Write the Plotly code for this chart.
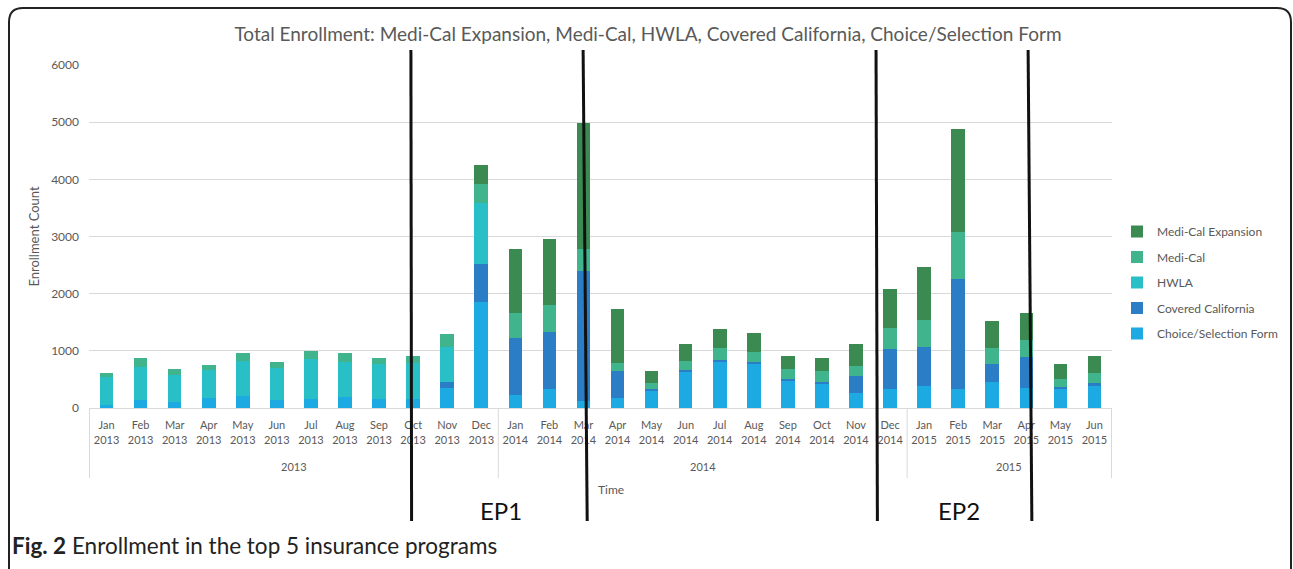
import plotly.graph_objects as go

# ---------------- data ----------------
years = ["2013"] * 12 + ["2014"] * 12 + ["2015"] * 6
months = (["Jan", "Feb", "Mar", "Apr", "May", "Jun", "Jul", "Aug", "Sep", "Oct", "Nov", "Dec"] * 2
          + ["Jan", "Feb", "Mar", "Apr", "May", "Jun"])
month_labels = [f"{m}<br>{y}" for m, y in zip(months, years)]

choice_selection = [47, 146, 105, 175, 204, 146, 158, 193, 152, 152, 352, 1849,
                    235, 335, 129, 170, 300, 624, 800, 765, 476, 429, 265, 334,
                    392, 334, 463, 351, 334, 381]
covered_california = [0, 0, 0, 0, 0, 0, 0, 0, 0, 0, 100, 675,
                      998, 986, 2271, 475, 41, 41, 41, 47, 24, 18, 300, 697,
                      673, 1920, 299, 539, 29, 53]
hwla = [496, 572, 467, 485, 613, 555, 706, 612, 612, 636, 616, 1068,
        0, 0, 0, 0, 0, 0, 0, 0, 0, 0, 0, 0,
        0, 0, 0, 0, 0, 0]
medi_cal = [70, 163, 105, 99, 152, 105, 128, 158, 117, 123, 223, 323,
            423, 487, 387, 135, 88, 159, 206, 165, 176, 206, 176, 369,
            480, 831, 293, 293, 146, 181]
medi_cal_expansion = [0, 0, 0, 0, 0, 0, 0, 0, 0, 0, 0, 340,
                      1133, 1156, 2195, 957, 218, 294, 341, 329, 235, 218, 376, 685,
                      913, 1803, 468, 480, 263, 293]

series = [
    ("Choice/Selection Form", choice_selection, "#1da9e2"),
    ("Covered California", covered_california, "#2b7dc6"),
    ("HWLA", hwla, "#28c0c6"),
    ("Medi-Cal", medi_cal, "#40b48c"),
    ("Medi-Cal Expansion", medi_cal_expansion, "#3b8a51"),
]

# period marker lines (category-index positions, top / bottom) and labels
period_lines = [(8.94, 8.96), (13.99, 14.11), (22.58, 22.62), (27.04, 27.15)]
period_labels = [("EP1", 11.57), ("EP2", 25.0)]

# ---------------- layout geometry ----------------
W, H = 1293, 569
ML, MR, MT, MB = 89, 181, 65, 161
PW, PH = W - ML - MR, H - MT - MB
N = len(month_labels)


def px_x(px):
    return (px - ML) / PW


def px_y(py):
    return (H - MB - py) / PH


def idx_x(i):
    return (i + 0.5) / N


FONT = "Lato, 'Open Sans', sans-serif"
GRAY = "#595959"
LIGHT = "#d9d9d9"

fig = go.Figure()
for rank, (name, vals, col) in enumerate(series):
    fig.add_trace(go.Bar(
        name=name, x=month_labels, y=vals,
        marker=dict(color=col, line=dict(width=0)),
        legendgroup=name, legendrank=100 - rank,
    ))

shapes = []
for top, bot in period_lines:
    shapes.append(dict(type="line", xref="paper", yref="paper",
                       x0=idx_x(top), y0=px_y(50), x1=idx_x(bot), y1=px_y(521),
                       line=dict(color="#111111", width=3), layer="above"))

# year group dividers + group labels below the month ticks
bounds = [-0.5] + [i + 0.5 for i in range(N - 1) if years[i] != years[i + 1]] + [N - 0.5]
for b in bounds:
    shapes.append(dict(type="line", xref="x", yref="paper", x0=b, x1=b,
                       y0=0, y1=px_y(478), line=dict(color=LIGHT, width=1), layer="below"))

annotations = []
for a, b in zip(bounds[:-1], bounds[1:]):
    annotations.append(dict(text=years[int(a + 0.5)], x=(a + b) / 2, y=px_y(466),
                            xref="x", yref="paper", showarrow=False,
                            font=dict(family=FONT, size=11, color=GRAY),
                            xanchor="center", yanchor="middle"))

# rounded figure border
x0, y0, x1, y1, r = px_x(9), px_y(8), px_x(1291), px_y(569), 14
rx, ry = r / PW, r / PH
border = (f"M {x0},{y1} L {x0},{y0 - ry} Q {x0},{y0} {x0 + rx},{y0} "
          f"L {x1 - rx},{y0} Q {x1},{y0} {x1},{y0 - ry} L {x1},{y1}")
shapes.append(dict(type="path", xref="paper", yref="paper", path=border,
                   line=dict(color="#222222", width=2)))

for txt, pos in period_labels:
    annotations.append(dict(text=txt, x=idx_x(pos), y=px_y(510), xref="paper", yref="paper",
                            showarrow=False, font=dict(family=FONT, size=24, color="#111111"),
                            xanchor="center", yanchor="middle"))
annotations.append(dict(text="<b>Fig. 2</b> Enrollment in the top 5 insurance programs",
                        x=px_x(10), y=px_y(545), xref="paper", yref="paper", showarrow=False,
                        font=dict(family=FONT, size=22.5, color="#222222"),
                        xanchor="left", yanchor="middle"))
annotations.append(dict(text="Time", x=px_x(611), y=px_y(489), xref="paper", yref="paper",
                        showarrow=False, font=dict(family=FONT, size=12, color=GRAY),
                        xanchor="center", yanchor="middle"))

fig.update_layout(
    width=W, height=H,
    margin=dict(l=ML, r=MR, t=MT, b=MB, autoexpand=False),
    paper_bgcolor="white", plot_bgcolor="white",
    barmode="stack", bargap=0.6,
    font=dict(family=FONT, color=GRAY, size=11),
    title=dict(text="Total Enrollment: Medi-Cal Expansion, Medi-Cal, HWLA, Covered California, Choice/Selection Form",
               xref="container", x=648 / W, xanchor="center", y=1 - 34 / H, yanchor="middle",
               font=dict(family=FONT, size=19, color=GRAY)),
    legend=dict(x=px_x(1117), xanchor="left", y=px_y(217), yanchor="top",
                traceorder="grouped", tracegroupgap=6.5, itemwidth=30,
                font=dict(family=FONT, size=12, color=GRAY), bgcolor="rgba(0,0,0,0)"),
    xaxis=dict(type="category", showgrid=False, showline=True, linecolor=LIGHT,
               linewidth=1, ticks="", ticklabelstandoff=7,
               tickfont=dict(family=FONT, size=11, color=GRAY)),
    yaxis=dict(range=[0, 6000], dtick=1000, showgrid=True, gridcolor=LIGHT, gridwidth=1,
               zeroline=False, showline=False, ticks="", ticklabelstandoff=9,
               tickfont=dict(family=FONT, size=12, color=GRAY),
               title=dict(text="Enrollment Count", standoff=8,
                          font=dict(family=FONT, size=13, color=GRAY))),
    shapes=shapes, annotations=annotations,
)

fig.write_html("out.html", config={"displayModeBar": False},
               post_script="document.body.style.margin='0px';")
